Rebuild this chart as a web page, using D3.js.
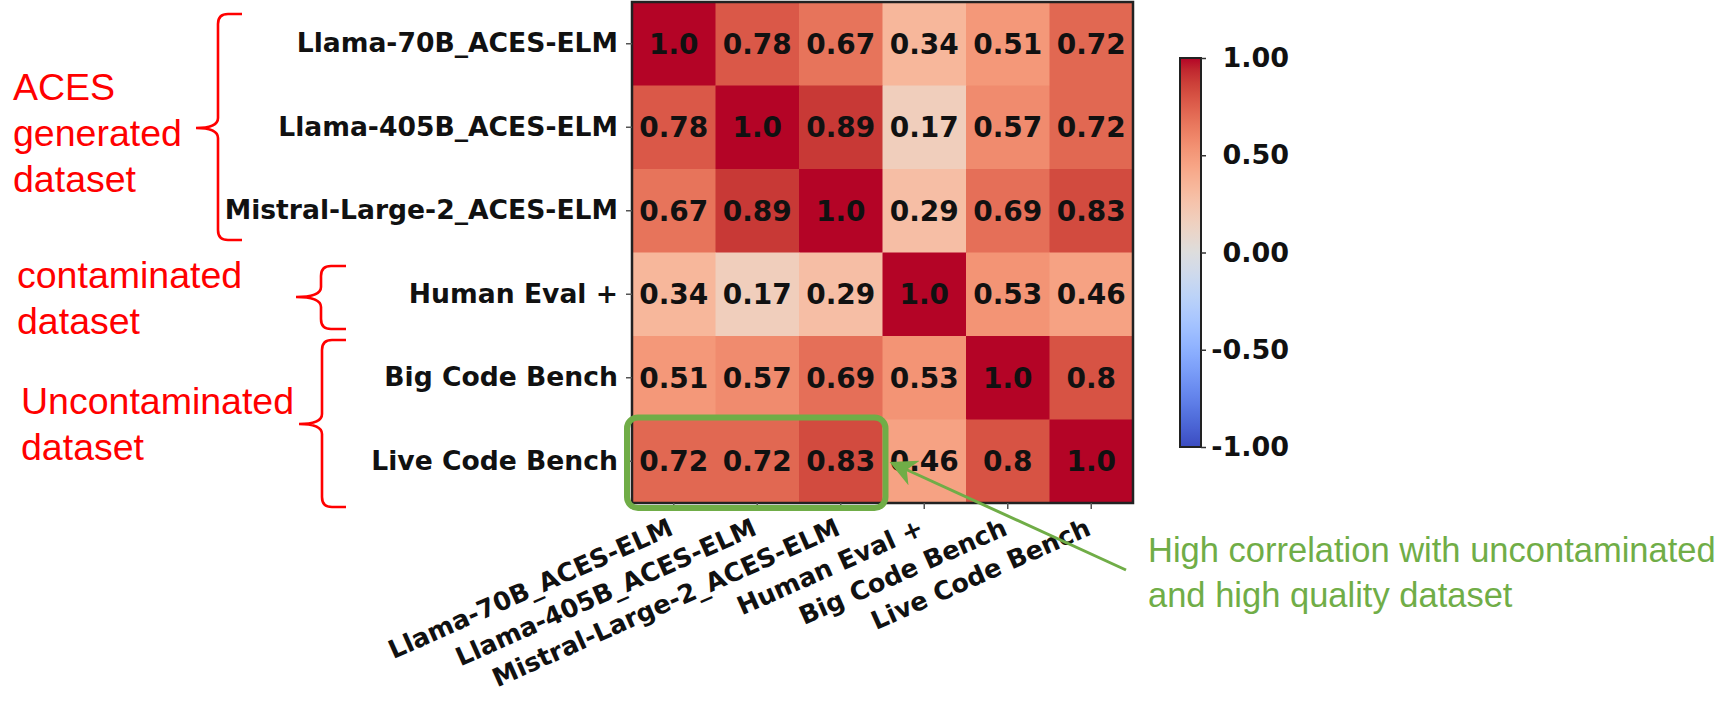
<!DOCTYPE html>
<html>
<head>
<meta charset="utf-8">
<script src="https://cdn.jsdelivr.net/npm/d3@7"></script>
<style>
  html, body { margin: 0; padding: 0; background: #fff; }
  svg { display: block; }
</style>
</head>
<body>
<svg id="chart" width="1732" height="704"></svg>
<script>
// ---------------- data ----------------
const categories = [
  "Llama-70B_ACES-ELM",
  "Llama-405B_ACES-ELM",
  "Mistral-Large-2_ACES-ELM",
  "Human Eval +",
  "Big Code Bench",
  "Live Code Bench"
];
const rowLlama70 = [1.0, 0.78, 0.67, 0.34, 0.51, 0.72];
const rowLlama405 = [0.78, 1.0, 0.89, 0.17, 0.57, 0.72];
const rowMistral = [0.67, 0.89, 1.0, 0.29, 0.69, 0.83];
const rowHumanEval = [0.34, 0.17, 0.29, 1.0, 0.53, 0.46];
const rowBigCode = [0.51, 0.57, 0.69, 0.53, 1.0, 0.8];
const rowLiveCode = [0.72, 0.72, 0.83, 0.46, 0.8, 1.0];
const matrix = [rowLlama70, rowLlama405, rowMistral, rowHumanEval, rowBigCode, rowLiveCode];
const colorbarTicks = [-1, -0.5, 0, 0.5, 1];

const groupNames = [["ACES", "generated", "dataset"], ["contaminated", "dataset"], ["Uncontaminated", "dataset"]];
const calloutLines = ["High correlation with uncontaminated", "and high quality dataset"];

// matplotlib "coolwarm" colormap control colours (33 samples)
const coolwarmStops = [
  [59,76,192],[68,90,204],[77,104,215],[87,117,225],[98,130,234],[108,142,241],
  [119,154,247],[130,165,251],[141,176,254],[152,185,255],[163,194,255],[174,201,253],
  [184,208,249],[194,213,244],[204,217,238],[213,219,230],[221,221,221],[229,216,209],
  [236,211,197],[241,204,185],[245,196,173],[247,187,160],[247,177,148],[247,166,135],
  [244,154,123],[241,141,111],[236,127,99],[229,112,88],[222,96,77],[213,80,66],
  [203,62,56],[192,40,47],[180,4,38]
];
const coolwarm = d3.piecewise(d3.interpolateRgb, coolwarmStops.map(c => d3.rgb(c[0], c[1], c[2])));

// ---------------- layout ----------------
const svg = d3.select("#chart");
const W = 1732, H = 704;
svg.append("rect").attr("width", W).attr("height", H).attr("fill", "#fff");

const hm = { x0: 632, x1: 1133, y0: 2, y1: 503 };
const x = d3.scaleBand().domain(categories).range([hm.x0, hm.x1]);
const y = d3.scaleBand().domain(categories).range([hm.y0, hm.y1]);
const color = d3.scaleSequential(coolwarm).domain([-1, 1]);

const FONT = "'DejaVu Sans', sans-serif";
const AFONT = "'Liberation Sans', Arial, sans-serif";

const cells = [];
matrix.forEach((row, i) => row.forEach((v, j) => cells.push({ r: categories[i], c: categories[j], v })));

const fmt = v => Number.isInteger(v) ? v.toFixed(1) : String(v);

const g = svg.append("g");
g.selectAll("rect.cell").data(cells).join("rect")
  .attr("class", "cell")
  .attr("x", d => x(d.c)).attr("y", d => y(d.r))
  .attr("width", x.bandwidth() + 0.5).attr("height", y.bandwidth() + 0.5)
  .attr("fill", d => color(d.v));

g.selectAll("text.val").data(cells).join("text")
  .attr("class", "val")
  .attr("x", d => x(d.c) + x.bandwidth() / 2)
  .attr("y", d => y(d.r) + y.bandwidth() / 2)
  .attr("dy", "0.36em")
  .attr("text-anchor", "middle")
  .attr("font-family", FONT).attr("font-weight", "bold").attr("font-size", 28)
  .attr("fill", "#111")
  .text(d => fmt(d.v));

// border
g.append("rect").attr("x", hm.x0).attr("y", hm.y0)
  .attr("width", hm.x1 - hm.x0).attr("height", hm.y1 - hm.y0)
  .attr("fill", "none").attr("stroke", "#222").attr("stroke-width", 2.5);

// y axis
const yAxis = svg.append("g").attr("transform", `translate(${hm.x0},0)`)
  .call(d3.axisLeft(y).tickSize(6).tickPadding(8));
yAxis.select(".domain").remove();
yAxis.selectAll(".tick line").attr("stroke", "#555").attr("stroke-width", 1.5);
yAxis.selectAll(".tick text")
  .attr("font-family", FONT).attr("font-weight", "bold").attr("font-size", 26.6).attr("fill", "#111");

// x axis
const xAxis = svg.append("g").attr("transform", `translate(0,${hm.y1})`)
  .call(d3.axisBottom(x).tickSize(6).tickPadding(8));
xAxis.select(".domain").remove();
xAxis.selectAll(".tick line").attr("stroke", "#555").attr("stroke-width", 1.5);
xAxis.selectAll(".tick text")
  .attr("font-family", FONT).attr("font-weight", "bold").attr("font-size", 25.5).attr("fill", "#111")
  .attr("text-anchor", "end")
  .attr("x", 0).attr("y", 0).attr("dy", 0)
  .attr("transform", "translate(1,31) rotate(-24)");

// ---------------- colorbar ----------------
const cb = { x: 1180, w: 21, y0: 58, y1: 447 };
const cbScale = d3.scaleLinear().domain([-1, 1]).range([cb.y1, cb.y0]);
const defs = svg.append("defs");
const grad = defs.append("linearGradient").attr("id", "cbgrad")
  .attr("x1", 0).attr("y1", 1).attr("x2", 0).attr("y2", 0);
d3.range(0, 1.0001, 1 / 64).forEach(t => {
  grad.append("stop").attr("offset", t).attr("stop-color", coolwarm(t));
});
svg.append("rect").attr("x", cb.x).attr("y", cb.y0).attr("width", cb.w).attr("height", cb.y1 - cb.y0)
  .attr("fill", "url(#cbgrad)").attr("stroke", "#222").attr("stroke-width", 2);
const cbAxis = svg.append("g").attr("transform", `translate(${cb.x + cb.w},0)`)
  .call(d3.axisRight(cbScale).tickValues(colorbarTicks).tickSize(5).tickPadding(8)
    .tickFormat(v => d3.format(".2f")(v).replace("\u2212", "-")));
cbAxis.select(".domain").remove();
cbAxis.selectAll(".tick line").attr("stroke", "#333").attr("stroke-width", 1.5);
cbAxis.selectAll(".tick text")
  .attr("font-family", FONT).attr("font-weight", "bold").attr("font-size", 27).attr("fill", "#111")
  .attr("text-anchor", "end").attr("x", 88);

// ---------------- annotations ----------------
const red = "#ff0000";
const brackets = [
  { tip: 196, spine: 218, right: 242, top: 14, mid: 128, bot: 240 },
  { tip: 296, spine: 321, right: 346, top: 266, mid: 297, bot: 329 },
  { tip: 299, spine: 322, right: 346, top: 340, mid: 424, bot: 507 }
];
const bracePath = b => {
  const r = 10;
  return `M${b.right},${b.top} L${b.spine + r},${b.top} Q${b.spine},${b.top} ${b.spine},${b.top + r}` +
    ` L${b.spine},${b.mid - r} Q${b.spine},${b.mid} ${b.tip},${b.mid}` +
    ` Q${b.spine},${b.mid} ${b.spine},${b.mid + r} L${b.spine},${b.bot - r}` +
    ` Q${b.spine},${b.bot} ${b.spine + r},${b.bot} L${b.right},${b.bot}`;
};
svg.selectAll("path.brace").data(brackets).join("path")
  .attr("class", "brace").attr("d", bracePath)
  .attr("fill", "none").attr("stroke", red).attr("stroke-width", 2.6);

const groupPos = [{ x: 13, y: 100 }, { x: 17, y: 288 }, { x: 21, y: 414 }];
groupNames.forEach((lines, k) => {
  const t = svg.append("text").attr("font-family", AFONT).attr("font-size", 37.5).attr("fill", red);
  lines.forEach((ln, i) => {
    t.append("tspan").attr("x", groupPos[k].x).attr("y", groupPos[k].y + i * 46).text(ln);
  });
});

// green highlight box and callout
const green = "#70ad47";
svg.append("rect")
  .attr("x", x(categories[0]) - 5).attr("y", y(categories[5]) - 2)
  .attr("width", x(categories[3]) - x(categories[0]) + 8)
  .attr("height", y.bandwidth() + 7)
  .attr("rx", 11).attr("fill", "none").attr("stroke", green).attr("stroke-width", 6);

defs.append("marker").attr("id", "arrow").attr("viewBox", "0 0 10 10")
  .attr("refX", 9).attr("refY", 5).attr("markerWidth", 9).attr("markerHeight", 9)
  .attr("orient", "auto")
  .append("path").attr("d", "M0,0 L10,5 L0,10 L3,5 Z").attr("fill", green);
svg.append("line").attr("x1", 1126).attr("y1", 570).attr("x2", 892).attr("y2", 463)
  .attr("stroke", green).attr("stroke-width", 3).attr("marker-end", "url(#arrow)");

const ct = svg.append("text").attr("font-family", AFONT).attr("font-size", 34.5).attr("fill", green);
calloutLines.forEach((ln, i) => {
  ct.append("tspan").attr("x", 1148).attr("y", 562 + i * 45).text(ln);
});
</script>
</body>
</html>
